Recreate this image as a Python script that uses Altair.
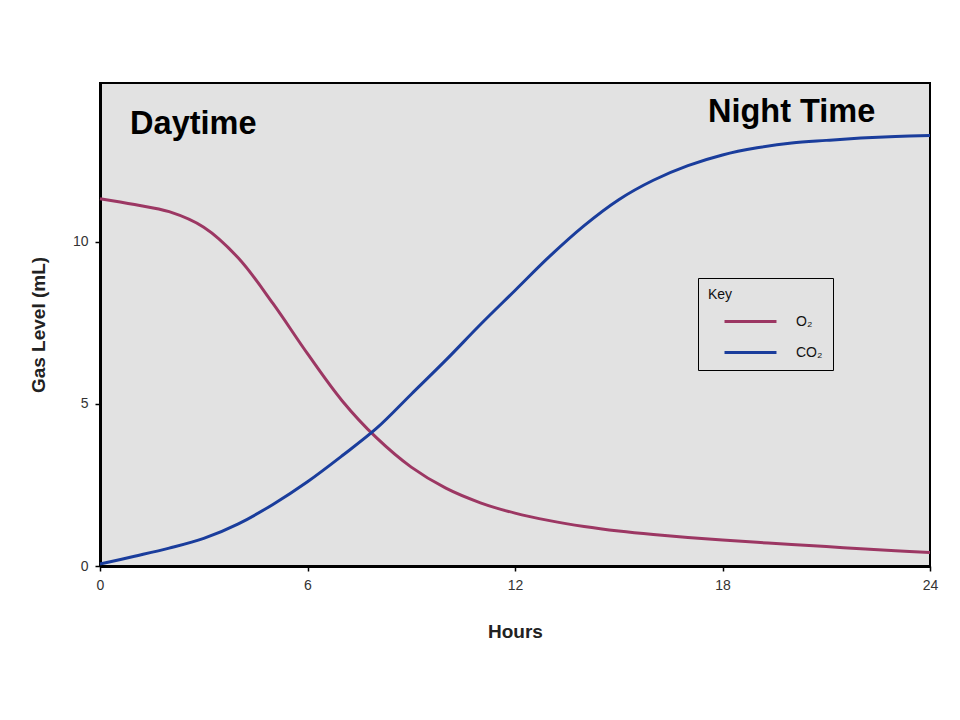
import altair as alt
import pandas as pd

hours = list(range(0, 25))
o2 = [11.33, 11.15, 10.93, 10.45, 9.5, 8.1, 6.55, 5.1, 3.95, 3.05, 2.4, 1.95, 1.63,
      1.4, 1.22, 1.08, 0.97, 0.88, 0.8, 0.73, 0.66, 0.6, 0.53, 0.47, 0.42]
co2 = [0.06, 0.3, 0.55, 0.85, 1.3, 1.9, 2.6, 3.4, 4.25, 5.3, 6.35, 7.45, 8.5,
       9.55, 10.5, 11.3, 11.9, 12.35, 12.68, 12.9, 13.05, 13.13, 13.2, 13.25, 13.28]
series_names = ["O₂", "CO₂"]
series_colors = ["#9c3763", "#1a3d9c"]

ann_text = ["Daytime", "Night Time"]
ann_x = [0.87, 17.58]
ann_y = [13.64, 14.0]

rows = []
for h, a, b in zip(hours, o2, co2):
    rows.append({"Hours": h, "Gas": series_names[0], "Level": a})
    rows.append({"Hours": h, "Gas": series_names[1], "Level": b})
df = pd.DataFrame(rows)
ann = pd.DataFrame({"text": ann_text, "x": ann_x, "y": ann_y})

xscale = alt.Scale(domain=[0, 24], nice=False)
yscale = alt.Scale(domain=[0, 14.9], nice=False)

lines = alt.Chart(df).mark_line(strokeWidth=3, interpolate="catmull-rom").encode(
    x=alt.X("Hours:Q", scale=xscale,
            axis=alt.Axis(title="Hours", values=[0, 6, 12, 18, 24], grid=False,
                          titlePadding=30, labelFlush=False)),
    y=alt.Y("Level:Q", scale=yscale,
            axis=alt.Axis(title="Gas Level (mL)", values=[0, 5, 10], grid=False,
                          titlePadding=24, labelFlush=False)),
    color=alt.Color("Gas:N", sort=series_names,
                    scale=alt.Scale(domain=series_names, range=series_colors),
                    legend=alt.Legend(title="Key", orient="none", legendX=598, legendY=195,
                                      symbolType="M-3,0H3", symbolSize=300,
                                      symbolOffset=32,
                                      symbolStrokeWidth=3, fillColor="#e2e2e2",
                                      strokeColor="#000000", padding=10,
                                      labelFontSize=14, titleFontSize=14,
                                      titleFontWeight="normal", labelOffset=35,
                                      rowPadding=13, titlePadding=9,
                                      labelFont="Liberation Sans", titleFont="Liberation Sans",
                                      labelColor="#111", titleColor="#111")),
)

texts = alt.Chart(ann).mark_text(align="left", baseline="middle", fontSize=32.5,
                                 fontWeight="bold", font="Liberation Sans",
                                 color="#000").encode(
    x=alt.X("x:Q", scale=xscale),
    y=alt.Y("y:Q", scale=yscale),
    text="text:N",
)

chart = alt.layer(lines, texts).properties(
    width=830, height=483,
    autosize=alt.AutoSizeParams(type="none"),
    padding={"left": 92, "top": 75, "right": 14, "bottom": 120},
    background="#ffffff",
).configure_view(
    fill="#e2e2e2", stroke="#000000", strokeWidth=2,
).configure_axis(
    domainColor="#000000", domainWidth=3, tickColor="#000000", tickSize=5,
    tickWidth=1.5, labelFont="Liberation Sans", labelFontSize=14, labelColor="#333",
    titleFont="Liberation Sans", titleFontSize=19, titleFontWeight="bold",
    titleColor="#222", labelPadding=7,
)

chart.save("out.html", embed_options={"renderer": "svg", "actions": False})
